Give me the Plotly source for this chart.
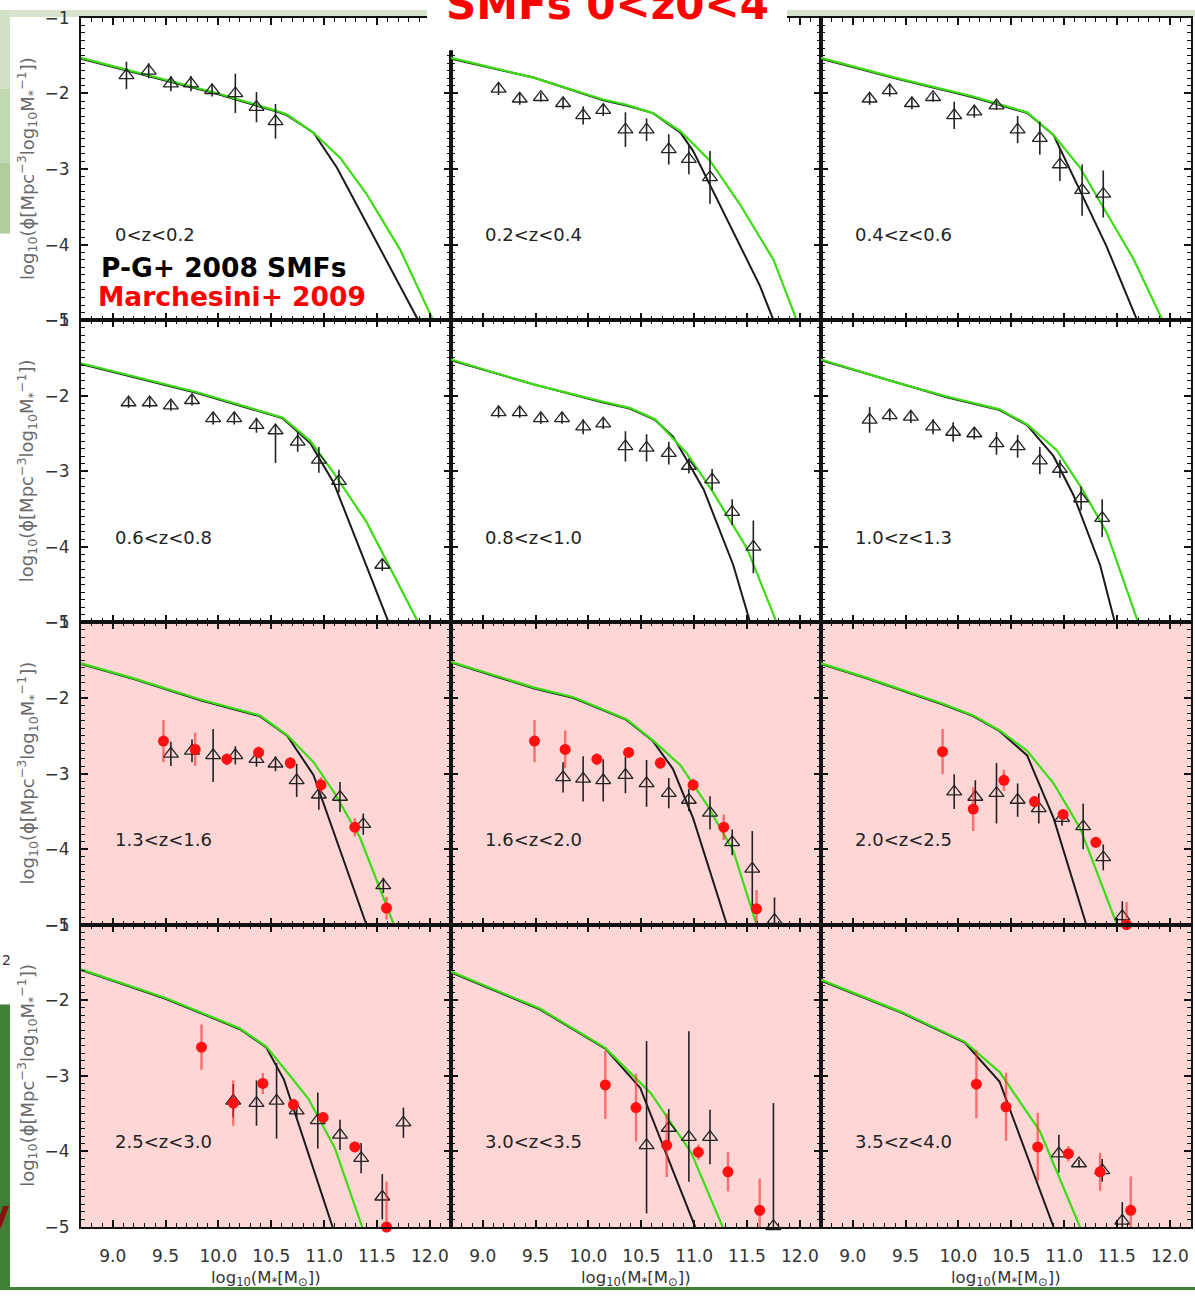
import plotly.graph_objects as go

# ---------------- data ----------------
z_labels = ["0<z<0.2", "0.2<z<0.4", "0.4<z<0.6", "0.6<z<0.8", "0.8<z<1.0", "1.0<z<1.3",
            "1.3<z<1.6", "1.6<z<2.0", "2.0<z<2.5", "2.5<z<3.0", "3.0<z<3.5", "3.5<z<4.0"]

# panel 1: 0<z<0.2
P1_black_x = [8.7, 9.5, 10.0, 10.55, 10.65, 10.90, 11.12, 11.89]
P1_black_y = [-1.54, -1.83, -2.01, -2.24, -2.29, -2.52, -2.98, -5.0]
P1_green_x = [8.7, 9.5, 10.0, 10.55, 10.65, 10.90, 11.15, 11.40, 11.72, 12.03]
P1_green_y = [-1.53, -1.82, -2.0, -2.23, -2.28, -2.52, -2.85, -3.33, -4.07, -5.0]
P1_tri_x = [9.13, 9.34, 9.55, 9.74, 9.94, 10.16, 10.36, 10.54]
P1_tri_y = [-1.76, -1.70, -1.87, -1.87, -1.96, -2.00, -2.18, -2.37]
P1_tri_e = [0.18, 0.10, 0.10, 0.10, 0.08, 0.26, 0.20, 0.23]

# panel 2: 0.2<z<0.4
P2_black_x = [8.7, 9.48, 10.14, 10.36, 10.61, 10.87, 10.99, 11.62, 11.75]
P2_black_y = [-1.54, -1.79, -2.09, -2.16, -2.26, -2.52, -2.76, -4.54, -5.0]
P2_green_x = [8.7, 9.48, 10.14, 10.36, 10.61, 10.87, 11.15, 11.43, 11.75, 11.97]
P2_green_y = [-1.53, -1.79, -2.08, -2.15, -2.26, -2.50, -2.89, -3.46, -4.2, -5.0]
P2_tri_x = [9.15, 9.35, 9.55, 9.76, 9.95, 10.14, 10.35, 10.55, 10.76, 10.95, 11.15]
P2_tri_y = [-1.94, -2.07, -2.05, -2.13, -2.29, -2.22, -2.48, -2.48, -2.74, -2.87, -3.11]
P2_tri_e = [0.08, 0.08, 0.06, 0.08, 0.12, 0.08, 0.23, 0.15, 0.20, 0.20, 0.35]

# panel 3: 0.4<z<0.6
P3_black_x = [8.7, 9.4, 10.14, 10.65, 10.90, 11.28, 11.40, 11.69]
P3_black_y = [-1.54, -1.80, -2.05, -2.26, -2.55, -3.67, -4.02, -5.0]
P3_green_x = [8.7, 9.4, 10.14, 10.65, 10.90, 11.15, 11.66, 11.93]
P3_green_y = [-1.53, -1.79, -2.04, -2.25, -2.55, -2.98, -4.20, -5.0]
P3_tri_x = [9.16, 9.35, 9.56, 9.76, 9.96, 10.15, 10.36, 10.56, 10.77, 10.96, 11.17, 11.37]
P3_tri_y = [-2.07, -1.96, -2.13, -2.05, -2.29, -2.24, -2.16, -2.48, -2.59, -2.94, -3.28, -3.33]
P3_tri_e = [0.08, 0.08, 0.08, 0.06, 0.18, 0.08, 0.06, 0.18, 0.22, 0.22, 0.34, 0.31]

# panel 4: 0.6<z<0.8
P4_black_x = [8.7, 9.79, 10.61, 10.87, 11.09, 11.61]
P4_black_y = [-1.58, -1.96, -2.30, -2.63, -3.15, -5.0]
P4_green_x = [8.7, 9.79, 10.61, 10.87, 11.09, 11.40, 11.89]
P4_green_y = [-1.57, -1.95, -2.29, -2.60, -3.02, -3.67, -5.0]
P4_tri_x = [9.15, 9.35, 9.55, 9.75, 9.95, 10.15, 10.36, 10.54, 10.75, 10.95, 11.14, 11.55]
P4_tri_y = [-2.09, -2.09, -2.13, -2.06, -2.30, -2.30, -2.39, -2.46, -2.61, -2.85, -3.13, -4.24]
P4_tri_e = [0.07, 0.07, 0.07, 0.07, 0.08, 0.08, 0.10, 0.08, 0.13, 0.17, 0.15, 0.08]
P4_tri_em = [0.07, 0.07, 0.07, 0.07, 0.08, 0.08, 0.10, 0.43, 0.13, 0.17, 0.15, 0.08]

# panel 5: 0.8<z<1.0
P5_black_x = [8.7, 9.48, 10.14, 10.39, 10.63, 10.80, 10.93, 11.09, 11.37, 11.53]
P5_black_y = [-1.53, -1.85, -2.09, -2.17, -2.32, -2.54, -2.85, -3.24, -4.24, -5.0]
P5_green_x = [8.7, 9.48, 10.14, 10.39, 10.63, 10.93, 11.18, 11.50, 11.78]
P5_green_y = [-1.52, -1.85, -2.08, -2.16, -2.31, -2.76, -3.28, -4.02, -5.0]
P5_tri_x = [9.15, 9.35, 9.55, 9.75, 9.95, 10.14, 10.35, 10.55, 10.76, 10.95, 11.17, 11.36, 11.56]
P5_tri_y = [-2.22, -2.22, -2.30, -2.30, -2.41, -2.37, -2.67, -2.69, -2.76, -2.93, -3.11, -3.54, -4.00]
P5_tri_e = [0.07, 0.07, 0.07, 0.07, 0.10, 0.07, 0.20, 0.18, 0.15, 0.10, 0.14, 0.17, 0.35]

# panel 6: 1.0<z<1.3
P6_black_x = [8.7, 9.35, 9.89, 10.39, 10.65, 10.90, 11.09, 11.34, 11.48]
P6_black_y = [-1.53, -1.80, -2.02, -2.19, -2.39, -2.80, -3.32, -4.24, -5.0]
P6_green_x = [8.7, 9.35, 9.89, 10.39, 10.65, 10.93, 11.15, 11.40, 11.70]
P6_green_y = [-1.52, -1.80, -2.01, -2.18, -2.38, -2.72, -3.19, -3.80, -5.0]
P6_tri_x = [9.16, 9.35, 9.55, 9.76, 9.95, 10.15, 10.36, 10.56, 10.77, 10.96, 11.16, 11.36]
P6_tri_y = [-2.32, -2.26, -2.28, -2.41, -2.48, -2.50, -2.63, -2.67, -2.86, -2.97, -3.36, -3.62]
P6_tri_e = [0.17, 0.07, 0.08, 0.10, 0.13, 0.08, 0.15, 0.15, 0.18, 0.12, 0.16, 0.25]

# panel 7: 1.3<z<1.6
P7_black_x = [8.7, 9.2, 9.83, 10.39, 10.65, 10.90, 11.40]
P7_black_y = [-1.55, -1.75, -2.03, -2.24, -2.50, -3.02, -5.0]
P7_green_x = [8.7, 9.2, 9.83, 10.39, 10.65, 10.90, 11.09, 11.34, 11.66]
P7_green_y = [-1.54, -1.74, -2.02, -2.23, -2.49, -2.85, -3.24, -3.85, -5.0]
P7_tri_x = [9.55, 9.75, 9.95, 10.16, 10.36, 10.54, 10.74, 10.95, 11.15, 11.37, 11.56]
P7_tri_y = [-2.74, -2.70, -2.76, -2.76, -2.81, -2.87, -3.09, -3.28, -3.31, -3.67, -4.48]
P7_tri_e = [0.16, 0.15, 0.35, 0.12, 0.10, 0.10, 0.22, 0.20, 0.20, 0.14, 0.10]
P7_red_x = [9.48, 9.78, 10.08, 10.38, 10.68, 10.97, 11.29, 11.59]
P7_red_y = [-2.57, -2.68, -2.81, -2.72, -2.86, -3.15, -3.71, -4.78]
P7_red_e = [0.28, 0.22, 0.08, 0.08, 0.08, 0.10, 0.12, 0.15]

# panel 8: 1.6<z<2.0
P8_black_x = [8.7, 9.48, 9.86, 10.36, 10.61, 10.80, 10.99, 11.31]
P8_black_y = [-1.53, -1.87, -2.00, -2.29, -2.57, -2.94, -3.59, -5.0]
P8_green_x = [8.7, 9.48, 9.86, 10.36, 10.61, 10.87, 11.12, 11.37, 11.59]
P8_green_y = [-1.52, -1.86, -1.99, -2.28, -2.56, -2.89, -3.41, -4.02, -5.0]
P8_tri_x = [9.76, 9.95, 10.14, 10.35, 10.55, 10.76, 10.95, 11.15, 11.36, 11.55, 11.76]
P8_tri_y = [-3.05, -3.07, -3.09, -3.02, -3.13, -3.26, -3.35, -3.52, -3.91, -4.26, -4.94]
P8_tri_e = [0.20, 0.30, 0.28, 0.24, 0.31, 0.20, 0.15, 0.22, 0.17, 0.50, 0.30]
P8_red_x = [9.49, 9.78, 10.08, 10.38, 10.68, 10.99, 11.28, 11.59]
P8_red_y = [-2.57, -2.68, -2.81, -2.72, -2.86, -3.15, -3.71, -4.79]
P8_red_e = [0.28, 0.25, 0.08, 0.06, 0.08, 0.08, 0.17, 0.25]

# panel 9: 2.0<z<2.5
P9_black_x = [8.7, 9.13, 9.86, 10.14, 10.39, 10.65, 10.90, 11.21]
P9_black_y = [-1.55, -1.74, -2.09, -2.24, -2.44, -2.76, -3.59, -5.0]
P9_green_x = [8.7, 9.13, 9.86, 10.14, 10.39, 10.65, 10.90, 11.15, 11.50]
P9_green_y = [-1.54, -1.73, -2.08, -2.23, -2.43, -2.70, -3.13, -3.72, -5.0]
P9_tri_x = [9.96, 10.16, 10.36, 10.56, 10.76, 10.98, 11.18, 11.37, 11.55]
P9_tri_y = [-3.24, -3.31, -3.26, -3.35, -3.46, -3.59, -3.70, -4.11, -4.89]
P9_tri_e = [0.23, 0.22, 0.40, 0.22, 0.20, 0.10, 0.30, 0.17, 0.20]
P9_red_x = [9.85, 10.14, 10.43, 10.72, 10.99, 11.30, 11.59]
P9_red_y = [-2.71, -3.47, -3.09, -3.37, -3.54, -3.91, -5.0]
P9_red_e = [0.30, 0.29, 0.14, 0.07, 0.06, 0.07, 0.30]

# panel 10: 2.5<z<3.0
P10_black_x = [8.7, 9.5, 10.2, 10.45, 10.62, 11.08]
P10_black_y = [-1.60, -1.98, -2.38, -2.62, -3.05, -5.0]
P10_green_x = [8.7, 9.5, 10.2, 10.45, 10.62, 10.85, 11.1, 11.36]
P10_green_y = [-1.59, -1.97, -2.37, -2.61, -2.90, -3.30, -3.95, -5.0]
P10_tri_x = [10.14, 10.36, 10.55, 10.74, 10.94, 11.15, 11.35, 11.55, 11.75]
P10_tri_y = [-3.33, -3.36, -3.33, -3.46, -3.59, -3.78, -4.09, -4.60, -3.62]
P10_tri_e = [0.22, 0.30, 0.50, 0.10, 0.37, 0.20, 0.20, 0.30, 0.20]
P10_red_x = [9.84, 10.14, 10.42, 10.71, 10.99, 11.29, 11.59]
P10_red_y = [-2.62, -3.36, -3.10, -3.38, -3.55, -3.94, -5.0]
P10_red_e = [0.30, 0.30, 0.14, 0.07, 0.07, 0.07, 0.60]

# panel 11: 3.0<z<3.5
P11_black_x = [8.7, 9.54, 10.16, 10.49, 11.01]
P11_black_y = [-1.63, -2.12, -2.64, -3.16, -5.0]
P11_green_x = [8.7, 9.54, 10.16, 10.59, 10.97, 11.27]
P11_green_y = [-1.62, -2.11, -2.63, -3.23, -4.01, -5.0]
P11_tri_x = [10.55, 10.76, 10.95, 11.15, 11.75]
P11_tri_y = [-3.92, -3.69, -3.81, -3.81, -4.99]
P11_tri_e = [1.38, 0.25, 1.40, 0.36, 1.63]
P11_tri_em = [0.90, 0.25, 0.59, 0.36, 0.30]
P11_red_x = [10.16, 10.45, 10.74, 11.04, 11.32, 11.62]
P11_red_y = [-3.12, -3.42, -3.92, -4.01, -4.27, -4.78]
P11_red_e = [0.45, 0.45, 0.42, 0.10, 0.26, 0.42]

# panel 12: 3.5<z<4.0
P12_black_x = [8.7, 9.47, 10.06, 10.39, 10.90]
P12_black_y = [-1.74, -2.17, -2.56, -3.08, -5.0]
P12_green_x = [8.7, 9.47, 10.06, 10.39, 10.77, 11.15]
P12_green_y = [-1.73, -2.16, -2.55, -2.95, -3.73, -5.0]
P12_tri_x = [10.95, 11.14, 11.36, 11.55]
P12_tri_y = [-4.03, -4.16, -4.25, -4.92]
P12_tri_e = [0.25, 0.05, 0.15, 0.25]
P12_red_x = [10.17, 10.45, 10.75, 11.04, 11.34, 11.63]
P12_red_y = [-3.11, -3.41, -3.94, -4.03, -4.27, -4.78]
P12_red_e = [0.45, 0.45, 0.45, 0.10, 0.25, 0.45]

panels = [
    dict(bx=P1_black_x, by=P1_black_y, gx=P1_green_x, gy=P1_green_y, tx=P1_tri_x, ty=P1_tri_y, te=P1_tri_e, tem=None, rx=None, ry=None, re=None),
    dict(bx=P2_black_x, by=P2_black_y, gx=P2_green_x, gy=P2_green_y, tx=P2_tri_x, ty=P2_tri_y, te=P2_tri_e, tem=None, rx=None, ry=None, re=None),
    dict(bx=P3_black_x, by=P3_black_y, gx=P3_green_x, gy=P3_green_y, tx=P3_tri_x, ty=P3_tri_y, te=P3_tri_e, tem=None, rx=None, ry=None, re=None),
    dict(bx=P4_black_x, by=P4_black_y, gx=P4_green_x, gy=P4_green_y, tx=P4_tri_x, ty=P4_tri_y, te=P4_tri_e, tem=P4_tri_em, rx=None, ry=None, re=None),
    dict(bx=P5_black_x, by=P5_black_y, gx=P5_green_x, gy=P5_green_y, tx=P5_tri_x, ty=P5_tri_y, te=P5_tri_e, tem=None, rx=None, ry=None, re=None),
    dict(bx=P6_black_x, by=P6_black_y, gx=P6_green_x, gy=P6_green_y, tx=P6_tri_x, ty=P6_tri_y, te=P6_tri_e, tem=None, rx=None, ry=None, re=None),
    dict(bx=P7_black_x, by=P7_black_y, gx=P7_green_x, gy=P7_green_y, tx=P7_tri_x, ty=P7_tri_y, te=P7_tri_e, tem=None, rx=P7_red_x, ry=P7_red_y, re=P7_red_e),
    dict(bx=P8_black_x, by=P8_black_y, gx=P8_green_x, gy=P8_green_y, tx=P8_tri_x, ty=P8_tri_y, te=P8_tri_e, tem=None, rx=P8_red_x, ry=P8_red_y, re=P8_red_e),
    dict(bx=P9_black_x, by=P9_black_y, gx=P9_green_x, gy=P9_green_y, tx=P9_tri_x, ty=P9_tri_y, te=P9_tri_e, tem=None, rx=P9_red_x, ry=P9_red_y, re=P9_red_e),
    dict(bx=P10_black_x, by=P10_black_y, gx=P10_green_x, gy=P10_green_y, tx=P10_tri_x, ty=P10_tri_y, te=P10_tri_e, tem=None, rx=P10_red_x, ry=P10_red_y, re=P10_red_e),
    dict(bx=P11_black_x, by=P11_black_y, gx=P11_green_x, gy=P11_green_y, tx=P11_tri_x, ty=P11_tri_y, te=P11_tri_e, tem=P11_tri_em, rx=P11_red_x, ry=P11_red_y, re=P11_red_e),
    dict(bx=P12_black_x, by=P12_black_y, gx=P12_green_x, gy=P12_green_y, tx=P12_tri_x, ty=P12_tri_y, te=P12_tri_e, tem=None, rx=P12_red_x, ry=P12_red_y, re=P12_red_e),
]

# ---------------- layout geometry (pixels) ----------------
W, H = 1195, 1300
X0, PW = 81, 370
Y0, PH = 8, 307
FONT = "DejaVu Sans"
PINK = "#FFD6D6"


def fx(p):
    return p / W


def fy(p):
    return 1 - p / H


fig = go.Figure()
layout_axes = {}
annotations = []
shapes = []

# slide background pieces
shapes.append(dict(type="rect", xref="paper", yref="paper", x0=0, x1=1, y0=fy(7), y1=1,
                   fillcolor="#d8e5cc", line_width=0, layer="below"))
for (a, b, col) in [(0, 80, "#d3e2c6"), (80, 155, "#c2d8b0"), (155, 227, "#b1cd9b")]:
    shapes.append(dict(type="rect", xref="paper", yref="paper", x0=0, x1=fx(10), y0=fy(b), y1=fy(a),
                       fillcolor=col, line_width=0, layer="below"))
shapes.append(dict(type="rect", xref="paper", yref="paper", x0=0, x1=fx(10), y0=0, y1=fy(1010),
                   fillcolor="#3f7f36", line_width=0, layer="below"))
shapes.append(dict(type="rect", xref="paper", yref="paper", x0=0, x1=1, y0=0, y1=fy(1297),
                   fillcolor="#3f7f36", line_width=0, layer="below"))

for i, p in enumerate(panels):
    r, c = divmod(i, 3)
    suf = "" if i == 0 else str(i + 1)
    xa, ya = "x" + suf, "y" + suf
    left, right = X0 + PW * c, X0 + PW * (c + 1)
    top, bottom = Y0 + PH * r, Y0 + PH * (r + 1)

    if r >= 2:
        shapes.append(dict(type="rect", xref="paper", yref="paper", x0=fx(left), x1=fx(right),
                           y0=fy(bottom), y1=fy(top), fillcolor=PINK, line_width=0, layer="below"))

    fig.add_trace(go.Scatter(x=p["bx"], y=p["by"], mode="lines", xaxis=xa, yaxis=ya,
                             line=dict(color="#1a1a1a", width=2), hoverinfo="skip"))
    fig.add_trace(go.Scatter(x=p["gx"], y=p["gy"], mode="lines", xaxis=xa, yaxis=ya,
                             line=dict(color="#3cdc14", width=2.2), hoverinfo="skip"))
    err = dict(type="data", array=p["te"], width=0, thickness=1.6, color="#222222")
    if p["tem"] is not None:
        err.update(symmetric=False, arrayminus=p["tem"])
    fig.add_trace(go.Scatter(x=p["tx"], y=p["ty"], mode="markers", xaxis=xa, yaxis=ya,
                             marker=dict(symbol="triangle-up-open", size=13, color="#222222",
                                         line=dict(width=1.3, color="#222222")),
                             error_y=err, cliponaxis=False))
    if p["rx"] is not None:
        fig.add_trace(go.Scatter(x=p["rx"], y=p["ry"], mode="markers", xaxis=xa, yaxis=ya,
                                 marker=dict(symbol="circle", size=11, color="#ff1010"),
                                 error_y=dict(type="data", array=p["re"], width=0, thickness=2.4,
                                              color="rgba(255,40,40,0.6)"),
                                 cliponaxis=False))

    axis_common = dict(showgrid=False, zeroline=False, showline=True, linecolor="#111111",
                       linewidth=2, mirror="ticks", ticks="inside", tickwidth=1.5,
                       tickcolor="#111111", fixedrange=True, tickmode="linear")
    layout_axes["xaxis" + suf] = dict(
        axis_common, domain=[fx(left), fx(right)], range=[8.7, 12.2], anchor=ya,
        tick0=9.0, dtick=0.5, tickformat=".1f", ticklen=7,
        minor=dict(ticks="inside", ticklen=4, tickwidth=1, tickcolor="#111111", dtick=0.1,
                   tick0=9.0, showgrid=False),
        showticklabels=(r == 3), ticklabelstandoff=13,
        tickfont=dict(family=FONT, size=17, color="#333333"))
    layout_axes["yaxis" + suf] = dict(
        axis_common, domain=[fy(bottom), fy(top)], range=[-5, -1], anchor=xa,
        tick0=-5, dtick=1, ticklen=7,
        minor=dict(ticks="inside", ticklen=4, tickwidth=1, tickcolor="#111111", dtick=0.1,
                   tick0=-5, showgrid=False),
        showticklabels=(c == 0), ticklabelstandoff=6,
        tickfont=dict(family=FONT, size=17, color="#333333"))

    annotations.append(dict(x=9.0, y=-3.87, xref=xa, yref=ya, text=z_labels[i], showarrow=False,
                            xanchor="left", yanchor="middle",
                            font=dict(family=FONT, size=18, color="#222222")))

# y-axis titles for each row
for r in range(4):
    yc = Y0 + PH * r + PH / 2
    annotations.append(dict(x=fx(27), y=fy(yc), xref="paper", yref="paper", textangle=-90,
                            text="log<sub>10</sub>(ϕ[Mpc<sup>−3</sup>log<sub>10</sub>M<sub>*</sub><sup>−1</sup>])",
                            showarrow=False, xanchor="center", yanchor="middle",
                            font=dict(family=FONT, size=18, color="#6a6a6a")))
# x-axis titles
for c in range(3):
    xc = X0 + PW * c + PW / 2
    annotations.append(dict(x=fx(xc), y=fy(1300), xref="paper", yref="paper",
                            text="log<sub>10</sub>(M<sub>*</sub>[M<sub>⊙</sub>])", showarrow=False,
                            xanchor="center", yanchor="bottom", borderpad=0,
                            font=dict(family=FONT, size=16.5, color="#333333")))

# white title box and title
shapes.append(dict(type="rect", xref="paper", yref="paper", x0=fx(427), x1=fx(787), y0=fy(41), y1=1,
                   fillcolor="white", line_width=0, layer="above"))
annotations.append(dict(x=fx(607), y=fy(-6), xref="paper", yref="paper", text="<b>SMFs 0<z0<4</b>",
                        showarrow=False, xanchor="center", yanchor="middle",
                        font=dict(family=FONT, size=42, color="#ff0000")))

# overlaid legend texts
annotations.append(dict(x=fx(99), y=fy(262), xref="paper", yref="paper", text="<b>P-G+ 2008 SMFs</b>",
                        showarrow=False, xanchor="left", yanchor="middle",
                        font=dict(family=FONT, size=26.5, color="#000000")))
annotations.append(dict(x=fx(96), y=fy(291), xref="paper", yref="paper", text="<b>Marchesini+ 2009</b>",
                        showarrow=False, xanchor="left", yanchor="middle",
                        font=dict(family=FONT, size=26.5, color="#ff0000")))

# slide remnants at the left edge
annotations.append(dict(x=fx(0), y=fy(965), xref="paper", yref="paper", text="2", showarrow=False,
                        xanchor="left", yanchor="middle", font=dict(family=FONT, size=14, color="#333333")))
annotations.append(dict(x=fx(12), y=fy(1226), xref="paper", yref="paper", text="<b>V</b>", showarrow=False,
                        xanchor="right", yanchor="middle", font=dict(family=FONT, size=30, color="#8b1010")))

fig.update_layout(width=W, height=H, margin=dict(l=0, r=0, t=0, b=0), autosize=False,
                  paper_bgcolor="white", plot_bgcolor="rgba(0,0,0,0)", showlegend=False,
                  shapes=shapes, annotations=annotations, **layout_axes)

fig.write_html("out.html")
